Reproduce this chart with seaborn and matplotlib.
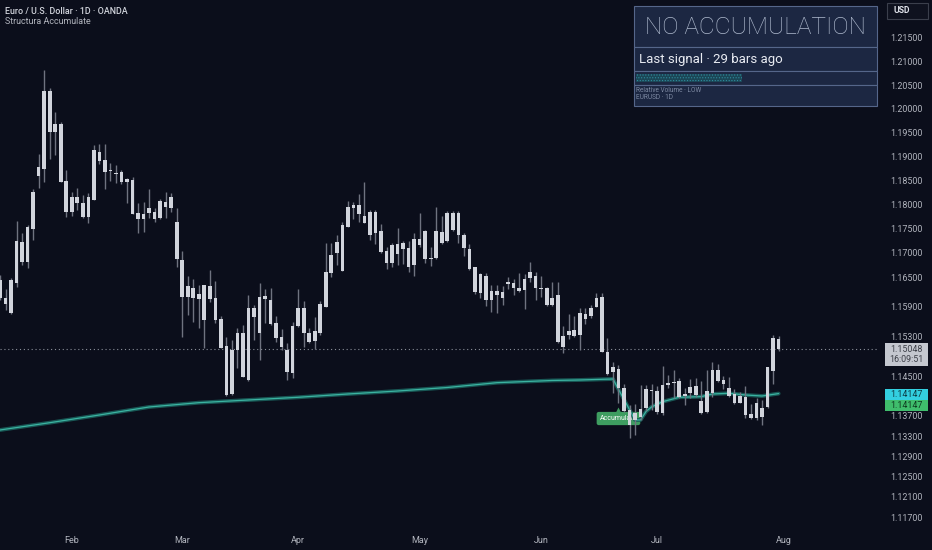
import matplotlib
matplotlib.use('Agg')
import matplotlib.pyplot as plt
from matplotlib.patches import Rectangle
from matplotlib.ticker import NullLocator, FixedFormatter
import numpy as np
import pandas as pd
import seaborn as sns

# EUR/USD daily candles (Jan 15 - Jul 31)
opens = [
    1.16446, 1.15956, 1.15773, 1.16385, 1.16815, 1.16815, 1.17494, 1.18591, 1.18738, 1.20375,
    1.19680, 1.19680, 1.18487, 1.17845, 1.18155, 1.17741, 1.17741, 1.18093, 1.19092, 1.18925,
    1.18717, 1.18654, 1.18675, 1.18529, 1.18508, 1.17824, 1.17700, 1.17928, 1.17700, 1.17720,
    1.17948, 1.18155, 1.17638, 1.16856, 1.16324, 1.16283, 1.16160, 1.15631, 1.16324, 1.16079,
    1.15651, 1.15105, 1.14139, 1.15367, 1.14480, 1.14420, 1.15875, 1.15367, 1.16120, 1.16038,
    1.15570, 1.15287, 1.14581, 1.14561, 1.15875, 1.15875, 1.15186, 1.15206, 1.15367, 1.15895,
    1.16590, 1.17226, 1.16631, 1.17535, 1.17990, 1.17990, 1.17762, 1.17370, 1.17845, 1.17452,
    1.16794, 1.16794, 1.16979, 1.17205, 1.16712, 1.16753, 1.17288, 1.17452, 1.16876, 1.16897,
    1.17205, 1.17246, 1.17824, 1.17824, 1.17370, 1.17082, 1.16712, 1.16569, 1.16528, 1.16038,
    1.16222, 1.16079, 1.16405, 1.16385, 1.16222, 1.16242, 1.16610, 1.16528, 1.16283, 1.16283,
    1.16079, 1.16140, 1.15085, 1.15408, 1.15307, 1.15327, 1.15651, 1.15712, 1.16079, 1.16099,
    1.14984, 1.14681, 1.14641, 1.14259, 1.13519, 1.13619, 1.13679, 1.13859, 1.14219, 1.13779,
    1.13759, 1.14319, 1.14380, 1.14400, 1.14099, 1.14279, 1.14299, 1.13759, 1.13779, 1.14159,
    1.14621, 1.14420, 1.14259, 1.14139, 1.14099, 1.14079, 1.13659, 1.13959, 1.13679, 1.13879,
    1.14601, 1.15246]
highs = [
    1.16549, 1.16262, 1.16487, 1.17658, 1.17411, 1.17576, 1.18322, 1.19050, 1.20819, 1.20438,
    1.19932, 1.19722, 1.18717, 1.18259, 1.18342, 1.18197, 1.18238, 1.19239, 1.19260, 1.19260,
    1.18863, 1.18821, 1.18717, 1.18550, 1.18571, 1.18031, 1.18052, 1.18322, 1.17928, 1.18114,
    1.18259, 1.18238, 1.17928, 1.17040, 1.16528, 1.16467, 1.16344, 1.16344, 1.16651, 1.16426,
    1.15712, 1.15287, 1.15226, 1.15469, 1.15529, 1.16140, 1.15936, 1.16385, 1.16262, 1.16283,
    1.15712, 1.15448, 1.15166, 1.15590, 1.16262, 1.16018, 1.15469, 1.15692, 1.16018, 1.17205,
    1.17205, 1.17370, 1.17638, 1.18072, 1.18052, 1.18218, 1.18466, 1.17886, 1.17886, 1.17597,
    1.17123, 1.17205, 1.17514, 1.17246, 1.17246, 1.17411, 1.17824, 1.17473, 1.17123, 1.17948,
    1.17762, 1.17865, 1.17865, 1.17865, 1.17411, 1.17185, 1.16712, 1.16590, 1.16590, 1.16344,
    1.16344, 1.16324, 1.16508, 1.16467, 1.16590, 1.16569, 1.16815, 1.16610, 1.16528, 1.16303,
    1.16405, 1.16405, 1.15509, 1.15753, 1.15712, 1.15875, 1.15875, 1.15936, 1.16181, 1.16181,
    1.15267, 1.14782, 1.14721, 1.14339, 1.13919, 1.13939, 1.14319, 1.14319, 1.14339, 1.14299,
    1.14701, 1.14520, 1.14621, 1.14460, 1.14259, 1.14440, 1.14460, 1.14400, 1.14621, 1.14782,
    1.14742, 1.14500, 1.14480, 1.14239, 1.14179, 1.14299, 1.13939, 1.14059, 1.14019, 1.14681,
    1.15327, 1.15307]
lows = [
    1.16038, 1.15834, 1.15753, 1.16303, 1.16753, 1.16692, 1.17267, 1.18342, 1.18466, 1.18946,
    1.19029, 1.18466, 1.17741, 1.17762, 1.17886, 1.17720, 1.17617, 1.18093, 1.18842, 1.18322,
    1.18487, 1.18446, 1.18425, 1.18031, 1.17803, 1.17411, 1.17432, 1.17720, 1.17638, 1.17700,
    1.17720, 1.17845, 1.16712, 1.15287, 1.15732, 1.15590, 1.15469, 1.15064, 1.15997, 1.15570,
    1.15064, 1.14099, 1.14119, 1.14661, 1.14480, 1.14400, 1.15226, 1.14822, 1.15570, 1.15529,
    1.15186, 1.15024, 1.14420, 1.14460, 1.15489, 1.15085, 1.15166, 1.15044, 1.15327, 1.15895,
    1.16508, 1.16753, 1.16631, 1.17535, 1.17700, 1.17638, 1.17617, 1.17267, 1.17185, 1.16999,
    1.16671, 1.16712, 1.16753, 1.16774, 1.16610, 1.16528, 1.17123, 1.16794, 1.16733, 1.16876,
    1.17185, 1.17226, 1.17452, 1.17205, 1.16938, 1.16651, 1.16160, 1.16079, 1.15916, 1.15793,
    1.15773, 1.15936, 1.16262, 1.16140, 1.16201, 1.15854, 1.16405, 1.16038, 1.16099, 1.15916,
    1.15916, 1.15166, 1.14963, 1.15246, 1.15287, 1.15024, 1.15550, 1.15672, 1.15895, 1.14984,
    1.14520, 1.14159, 1.13959, 1.13779, 1.13261, 1.13320, 1.13619, 1.13799, 1.13819, 1.13739,
    1.13719, 1.14259, 1.14059, 1.14059, 1.13919, 1.14059, 1.14079, 1.13739, 1.13759, 1.14079,
    1.14380, 1.14239, 1.14079, 1.13939, 1.13959, 1.13659, 1.13639, 1.13619, 1.13519, 1.13859,
    1.14339, 1.15004]
closes = [
    1.16079, 1.16079, 1.16446, 1.17246, 1.17226, 1.17535, 1.18259, 1.18779, 1.20375, 1.19511,
    1.19511, 1.18466, 1.17845, 1.18155, 1.18031, 1.18031, 1.18155, 1.19134, 1.18904, 1.18675,
    1.18696, 1.18633, 1.18466, 1.18466, 1.17803, 1.17700, 1.17803, 1.17824, 1.17845, 1.18072,
    1.18052, 1.17928, 1.16876, 1.16099, 1.16099, 1.16079, 1.16058, 1.16344, 1.16058, 1.15631,
    1.15064, 1.14119, 1.15024, 1.15024, 1.15367, 1.15875, 1.15692, 1.16099, 1.16058, 1.15550,
    1.15267, 1.15085, 1.15024, 1.15509, 1.15509, 1.15367, 1.15367, 1.15408, 1.15956, 1.16610,
    1.16958, 1.16999, 1.17576, 1.17948, 1.17928, 1.17803, 1.17617, 1.17845, 1.17411, 1.17020,
    1.17040, 1.17164, 1.17185, 1.17082, 1.17102, 1.17288, 1.17164, 1.16876, 1.16897, 1.17452,
    1.17432, 1.17824, 1.17473, 1.17370, 1.17102, 1.16671, 1.16201, 1.16181, 1.16038, 1.16222,
    1.16140, 1.16201, 1.16365, 1.16283, 1.16283, 1.16467, 1.16487, 1.16283, 1.16262, 1.15936,
    1.15936, 1.15186, 1.15307, 1.15327, 1.15428, 1.15773, 1.15753, 1.15875, 1.15895, 1.14984,
    1.14540, 1.14581, 1.14259, 1.13799, 1.13819, 1.13759, 1.13839, 1.14239, 1.14199, 1.14199,
    1.14319, 1.14360, 1.14360, 1.14079, 1.14139, 1.14159, 1.14119, 1.13999, 1.14199, 1.14621,
    1.14400, 1.14339, 1.14099, 1.13959, 1.13959, 1.13719, 1.13739, 1.13659, 1.13859, 1.14681,
    1.15267, 1.15048]

# Structura Accumulate line (bar number, value)
line_bars = [0, 9, 18, 27, 36, 45, 54, 63, 72, 81, 90, 100, 105, 111,
             113, 115, 116, 117, 118, 120, 123, 127, 129, 132, 135, 138, 141]
line_vals = [1.13420, 1.13565, 1.13719, 1.13879, 1.13965, 1.14019, 1.14073, 1.14139,
             1.14199, 1.14269, 1.14366, 1.14410, 1.14420, 1.14440, 1.14030, 1.13620,
             1.13620, 1.13790, 1.13880, 1.13985, 1.14073, 1.14086, 1.14139, 1.14153,
             1.14119, 1.14099, 1.14147]

price_ticks = [1.215, 1.210, 1.205, 1.200, 1.195, 1.190, 1.185, 1.180, 1.175, 1.170,
               1.165, 1.159, 1.153, 1.145, 1.137, 1.133, 1.129, 1.125, 1.121, 1.117]
last_price = 1.15048
line_last = 1.14147
signal_bar = 112
signal_price = 1.1384
bars_ago = 29

BG = '#0b0e1b'
W, H = 932, 550

sns.set_theme(style='dark')
plt.rcParams['font.family'] = ['Roboto', 'DejaVu Sans']
plt.rcParams['hatch.linewidth'] = 0.5

df = pd.DataFrame({'open': opens, 'high': highs, 'low': lows, 'close': closes})
df['bar'] = np.arange(len(df))
df['top'] = df[['open', 'close']].max(axis=1)
df['bot'] = df[['open', 'close']].min(axis=1)

# trading days, plus one future bar for the Aug label
dates = pd.bdate_range(end='2025-07-31', periods=len(df) + 1)
dates = pd.bdate_range(start=dates[1], periods=len(df) + 1)
first_of_month = [i for i in range(1, len(dates)) if dates[i].month != dates[i - 1].month]

fig = plt.figure(figsize=(W / 100, H / 100), dpi=100, facecolor=BG)
ax = fig.add_axes([0, 20 / H, 878 / W, 530 / H])
ax.set_facecolor(BG)

# candles
ax.vlines(df['bar'], df['low'], df['high'], color='#6f7380', lw=1.0, zorder=3)
ax.bar(df['bar'], np.maximum(df['top'] - df['bot'], 0.00012), bottom=df['bot'],
       width=0.66, color='#d1d4dc', linewidth=0, zorder=4)

# indicator line with glow
sns.lineplot(x=line_bars, y=line_vals, ax=ax, color='#1a5f5b', lw=2.8, alpha=0.9, zorder=2)
sns.lineplot(x=line_bars, y=line_vals, ax=ax, color='#3bb3a1', lw=0.9, zorder=2.5)

# last price dotted line
ax.axhline(last_price, color='#8a8e99', lw=0.8, ls=(0, (1, 2.5)), zorder=1)

# accumulate label
ax.plot([signal_bar], [signal_price * 0.99975], marker='^', ms=4.5, color='#3e9d60',
        mec='none', zorder=1.5)
ax.annotate('Accumulate', xy=(signal_bar, signal_price), xytext=(0, -6.9),
            textcoords='offset points', ha='center', va='center', fontsize=5,
            color='white', zorder=1.6,
            bbox=dict(boxstyle='round,pad=0.45,rounding_size=0.3', fc='#3e9d60', ec='none'))

ax.set_yscale('log')
ax.set_ylim(1.11446, 1.22313)
ax.set_xlim(0, 159)
ax.set_yticks(price_ticks)
ax.yaxis.set_minor_locator(NullLocator())
ax.yaxis.set_major_formatter(FixedFormatter(['%.5f' % v for v in price_ticks]))
ax.yaxis.tick_right()
ax.tick_params(axis='y', which='both', length=0, pad=8.6, labelsize=6.4,
               labelcolor='#b2b5be', left=False, right=True)
ax.set_xticks(first_of_month)
ax.set_xticklabels([dates[i].strftime('%b') for i in first_of_month])
ax.tick_params(axis='x', length=0, pad=4.2, labelsize=6.5, labelcolor='#b2b5be')
ax.grid(False)
for s in ax.spines.values():
    s.set_visible(False)
ax.set_xlabel('')
ax.set_ylabel('')


def fx(x):
    return x / W


def fy(y):
    return 1 - y / H


def box(x0, y0, x1, y1, **kw):
    fig.add_artist(Rectangle((fx(x0), fy(y1)), (x1 - x0) / W, (y1 - y0) / H,
                             transform=fig.transFigure, **kw))


# chart title
fig.text(fx(5), fy(11), 'Euro / U.S. Dollar · 1D · OANDA', fontsize=6.4,
         color='#d1d4dc', va='center', weight='medium')
fig.text(fx(5), fy(22), 'Structura Accumulate', fontsize=6.4, color='#b2b5be', va='center')

# info panel
for y0, y1 in [(6, 47), (47, 71), (71, 85), (85, 106)]:
    box(634, y0, 877, y1, fc='#1c2742', ec='#55668a', lw=0.8)
fig.text(fx(755.5), fy(28), 'NO ACCUMULATION', fontsize=17.6, color='#aeb9cd',
         ha='center', va='center', weight='light')
fig.text(fx(639), fy(59.5), 'Last signal · %d bars ago' % bars_ago, fontsize=9.5,
         color='#e8ebf2', va='center')
box(636, 74.5, 742, 82, fc='#1b4656', ec='#2f8a9c', lw=0, hatch='......')
fig.text(fx(636), fy(90.8), 'Relative Volume · LOW', fontsize=4.7, color='#7d89a2', va='center')
fig.text(fx(636), fy(97.8), 'EURUSD · 1D', fontsize=4.7, color='#7d89a2', va='center')

# price scale extras
fig.add_artist(plt.Rectangle((fx(886.5), fy(18.5)), 41 / W, 15.5 / H, transform=fig.transFigure,
                             fc='#0f121f', ec='#3b3f4c', lw=0.8))
fig.text(fx(893), fy(10.8), 'USD', fontsize=6.2, color='#e0e3eb', va='center', weight='bold')

box(884.5, 343, 928, 366, fc='#c4c7cf', ec='none')
fig.text(fx(906.3), fy(349.5), '%.5f' % last_price, fontsize=6.4, color='#3c3f48',
         ha='center', va='center')
fig.text(fx(906.3), fy(359), '16:09:51', fontsize=6.4, color='#3c3f48', ha='center', va='center')
box(884.5, 389, 928, 400, fc='#33cfe0', ec='none')
fig.text(fx(906.3), fy(394.5), '%.5f' % line_last, fontsize=6.4, color='#0d3b44',
         ha='center', va='center')
box(884.5, 400, 928, 411, fc='#3fbd6c', ec='none')
fig.text(fx(906.3), fy(405.5), '%.5f' % line_last, fontsize=6.4, color='#0f3a20',
         ha='center', va='center')

fig.savefig('out.png', dpi=100, facecolor=BG)
